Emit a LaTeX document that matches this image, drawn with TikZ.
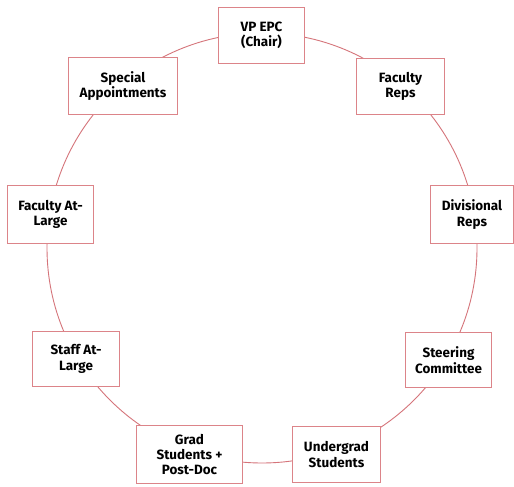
\documentclass[tikz,border=0pt]{standalone}
\usepackage{fontspec}
\setmainfont{Fira Sans}[BoldFont={Fira Sans Bold}]
\definecolor{ringred}{HTML}{D5747A}
\definecolor{boxred}{HTML}{DC8489}
\begin{document}
\begin{tikzpicture}[x=1bp,y=-1bp,
  ring/.style={draw=ringred, line width=0.9bp},
  member/.style={draw=boxred, line width=1.4bp, fill=white, align=center,
    font=\bfseries\fontsize{13.5}{15.5}\selectfont, inner sep=0pt},
]
\useasboundingbox (0,0) rectangle (514,487);
\fill[white] (0,0) rectangle (514,487);

% the committee ring
\coordinate (ctr) at (262,248);
\draw[ring] (ctr) circle[radius=215];

% members around the ring
\node[member, minimum width=86bp, minimum height=56bp] (vp) at (261.5,35.5) {VP EPC\\(Chair)};
\node[member, minimum width=88bp, minimum height=56bp] (frep) at (400.5,86.5) {Faculty\\Reps};
\node[member, minimum width=83bp, minimum height=58bp] (div) at (472,214.5) {Divisional\\Reps};
\node[member, minimum width=86bp, minimum height=55bp] (steer) at (448.5,360) {Steering\\Committee};
\node[member, minimum width=88bp, minimum height=56bp] (ug) at (336.5,454.5) {Undergrad\\Students};
\node[member, minimum width=106bp, minimum height=58bp] (grad) at (189.5,454.5) {Grad\\Students +\\Post-Doc};
\node[member, minimum width=87bp, minimum height=55bp] (staff) at (76,359) {Staff At-\\Large};
\node[member, minimum width=86bp, minimum height=58bp] (fal) at (50.5,214.5) {Faculty At-\\Large};
\node[member, minimum width=109bp, minimum height=57bp] (spec) at (123,86) {Special\\Appointments};
\end{tikzpicture}
\end{document}
